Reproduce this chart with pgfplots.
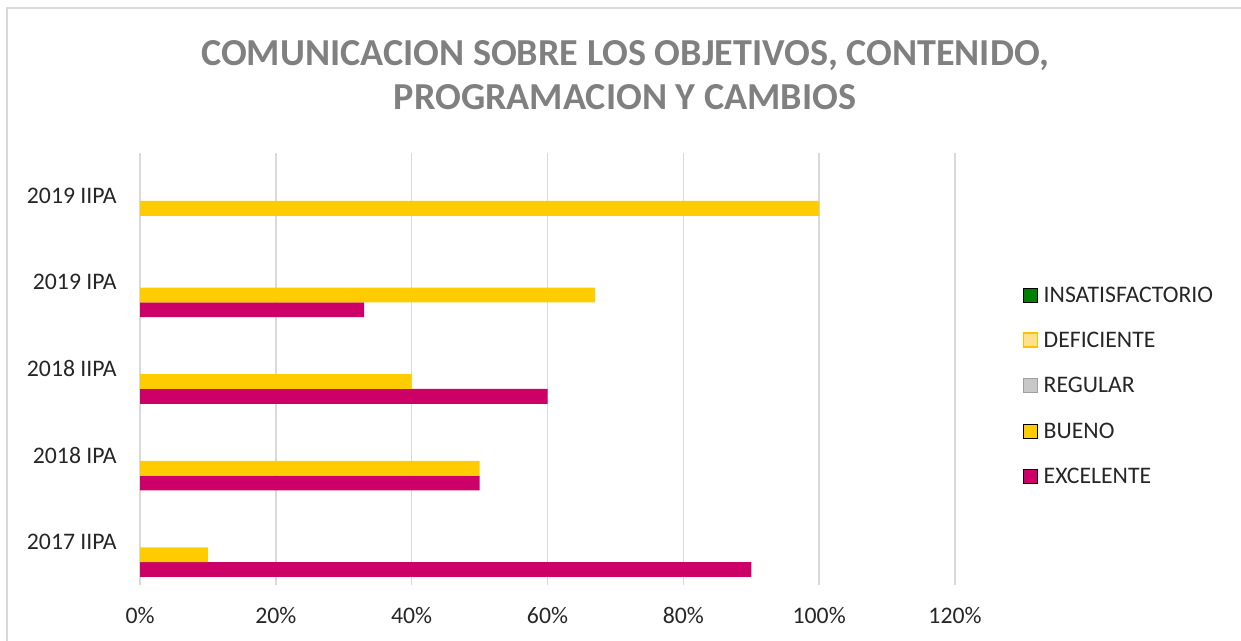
\documentclass[border=0pt]{standalone}
\usepackage{fontspec}
\setmainfont{Carlito}
\usepackage{pgfplots}
\pgfplotsset{compat=1.18}
\definecolor{bueno}{HTML}{FFCC00}
\definecolor{excel}{HTML}{CC0066}
\definecolor{insat}{HTML}{008000}
\definecolor{defic}{HTML}{FFE08C}
\definecolor{deficb}{HTML}{FFC000}
\definecolor{regul}{HTML}{C8C8C8}
\definecolor{regulb}{HTML}{A0A0A0}
\definecolor{gridc}{HTML}{D9D9D9}
\definecolor{titlec}{HTML}{808080}
\definecolor{txt}{HTML}{262626}

\begin{document}
\begin{tikzpicture}
\path[use as bounding box] (0pt,0pt) rectangle (930.75pt,480.75pt);
\draw[gridc, line width=0.9pt] (5.25pt,0pt) -- (5.25pt,474.75pt) -- (930.75pt,474.75pt);
\node[align=center, font=\fontsize{28.6}{33}\selectfont\bfseries, text=titlec, inner sep=0pt] at (468.75pt,424.5pt) {COMUNICACION SOBRE LOS OBJETIVOS, CONTENIDO,\\PROGRAMACION Y CAMBIOS};
\begin{axis}[
  at={(105pt,42pt)}, anchor=south west,
  scale only axis, width=611.25pt, height=324.2pt,
  xbar, bar width=11.1pt,
  xmin=0, xmax=120, ymin=-0.52, ymax=4.472,
  xtick={0,20,...,120},
  xticklabel={\pgfmathprintnumber{\tick}\%},
  ytick={0,...,4},
  yticklabels={2017 IIPA,2018 IPA,2018 IIPA,2019 IPA,2019 IIPA},
  xmajorgrids, major grid style={gridc, line width=1.1pt},
  axis line style={draw=none}, major tick length=0pt,
  tick label style={font=\fontsize{17.8}{20}\selectfont, text=txt},
  /pgf/number format/assume math mode=true,
  xticklabel style={yshift=-13.5pt},
  yticklabel style={xshift=-14pt, yshift=-1.5pt},
  reverse legend,
  legend cell align=left,
  legend image code/.code={\draw[#1] (0pt,0.1pt) rectangle (10.5pt,10.6pt);},
  legend style={at={(rel axis cs:1.0828,0.4626)}, anchor=west, draw=none, fill=none,
    inner sep=0pt, row sep=22.2pt, column sep=4.2pt,
    font=\fontsize{17.8}{20}\selectfont, text=txt,
    nodes={inner sep=0pt, text height=11.5pt, text depth=0pt, anchor=base west}},
]
% EXCELENTE (lowest slot of each group)
\addplot[fill=excel, draw=none, bar shift=-22.2pt] coordinates {(90,0) (50,1) (60,2) (33,3)};
\addlegendentry{EXCELENTE}
% BUENO
\addplot[fill=bueno, draw=none, bar shift=-11.1pt] coordinates {(10,0) (50,1) (40,2) (67,3) (100,4)};
\addlegendentry{BUENO}
% REGULAR, DEFICIENTE, INSATISFACTORIO: 0% in every period
\addlegendimage{fill=regul, draw=regulb, line width=1pt}
\addlegendentry{REGULAR}
\addlegendimage{fill=defic, draw=deficb, line width=1pt}
\addlegendentry{DEFICIENTE}
\addlegendimage{fill=insat, draw=none}
\addlegendentry{INSATISFACTORIO}
\end{axis}
\end{tikzpicture}
\end{document}
